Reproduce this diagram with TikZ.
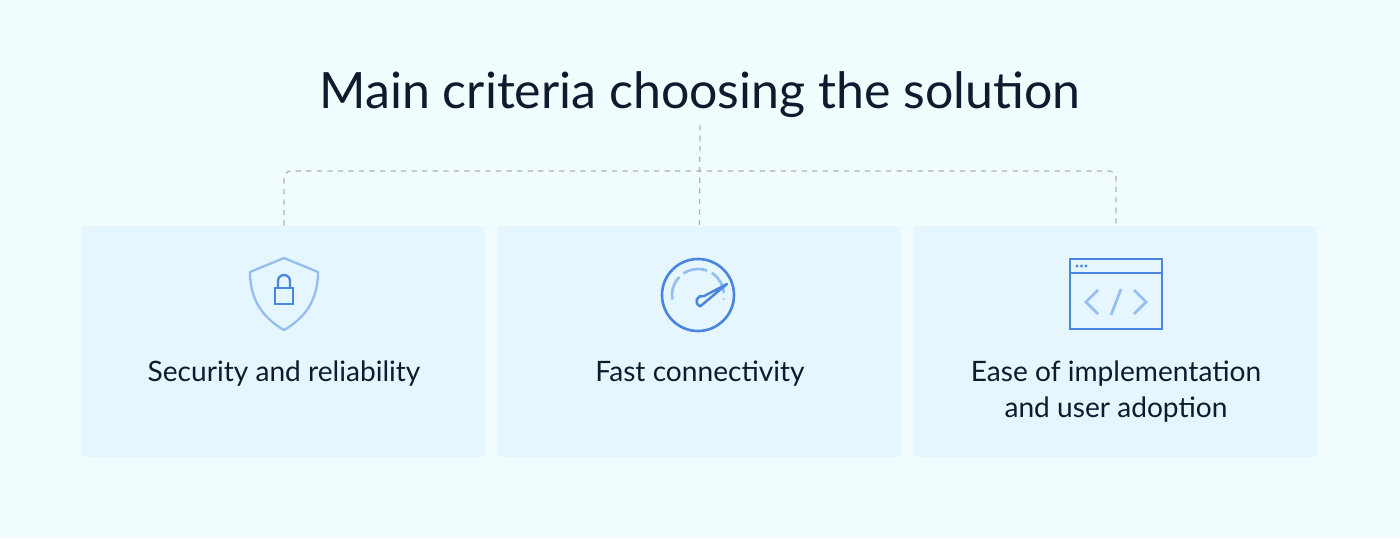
\documentclass[tikz,border=0pt]{standalone}
\usepackage{fontspec}
\setmainfont{Lato}
\usetikzlibrary{positioning}
\definecolor{bgcol}{HTML}{F1FCFE}
\definecolor{boxcol}{HTML}{E6F6FE}
\definecolor{icondark}{HTML}{4A86E0}
\definecolor{iconlight}{HTML}{94BDF0}
\definecolor{txtcol}{HTML}{0E1A2E}
\tikzset{
  card/.style={fill=boxcol, rounded corners=2pt, minimum width=8.06cm, minimum height=4.62cm, inner sep=0pt},
  label/.style={font=\fontsize{16}{20.5}\selectfont, text=txtcol, align=center},
  link/.style={draw=gray!60, dashed, line width=0.7pt, rounded corners=4pt},
}
\begin{document}
\begin{tikzpicture}[x=0.02cm,y=-0.02cm]
	\fill[bgcol] (0,0) rectangle (1400,538);
	\node[font=\fontsize{28.5}{34}\selectfont, text=txtcol] (title) at (700,95) {Main criteria choosing the solution};

	% cards
	\node[card] (c1) at (283.5,341.5) {};
	\node[card] (c2) at (699.5,341.5) {};
	\node[card] (c3) at (1115.5,341.5) {};

	\node[label] (l1) at (284,374) {Security and reliability};
	\node[label] (l2) at (700,374) {Fast connectivity};
	\node[label] (l3) at (1116,392) {Ease of implementation\\and user adoption};

	% connectors
	\coordinate (top) at (700,125);
	\draw[link] (top) -- (c2.north);
	\draw[link] (c1.north -| 284,0) -- (284,171) -- (1116,171) -- (c3.north -| 1116,0);

	% shield
	\draw[iconlight, line width=1.3pt, line join=round]
	  (284,258) -- (318,272) .. controls (318,300) and (305,318) .. (284,330)
	  .. controls (263,318) and (250,300) .. (250,272) -- cycle;
	\draw[icondark, line width=1.3pt] (275,288) rectangle (293,304);
	\draw[icondark, line width=1.3pt] (278,288) -- (278,281) arc (-180:0:6) -- (290,288);

	% gauge
	\draw[icondark, line width=1.5pt] (698,295) circle (36);
	\draw[iconlight, line width=1.5pt, dash pattern=on 14pt off 3pt] (698,295) ++(-190:26) arc (-190:10:26);
	\draw[icondark, line width=1.4pt, line join=round] (727,284) -- (700,306.5) arc (-250:-70:5.5) -- cycle;

	% window
	\draw[icondark, line width=1.5pt] (1070,259) rectangle (1162,329);
	\draw[icondark, line width=1.5pt] (1070,273) -- (1162,273);
	\foreach \i in {0,1,2} \fill[icondark] (1077+\i*4.5,266) circle (1.6);
	\draw[iconlight, line width=1.5pt] (1098,290) -- (1086,302) -- (1098,314);
	\draw[iconlight, line width=1.5pt] (1134,290) -- (1146,302) -- (1134,314);
	\draw[iconlight, line width=1.5pt] (1121,289) -- (1111,315);
\end{tikzpicture}
\end{document}
